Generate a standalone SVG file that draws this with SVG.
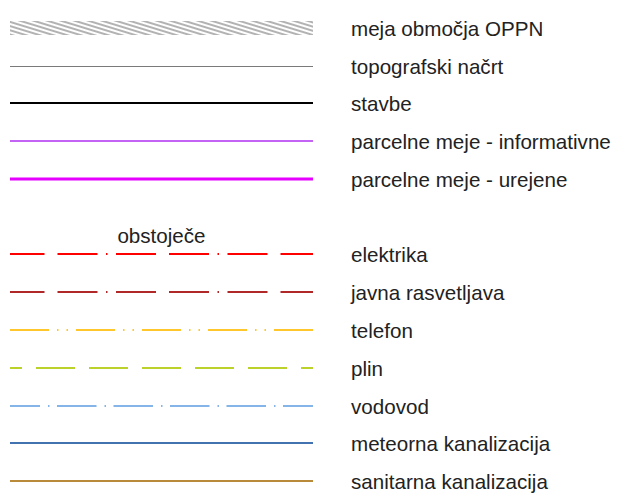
<svg xmlns="http://www.w3.org/2000/svg" width="621" height="495" viewBox="0 0 621 495">
<style>
text{font-family:"Liberation Sans",Arial,sans-serif;font-size:20.6px;fill:#222}
line{fill:none}
</style>
<defs>
<pattern id="hatch" patternUnits="userSpaceOnUse" width="6" height="4" patternTransform="rotate(17)">
<line x1="0" y1="2" x2="6" y2="2" stroke="#666" stroke-width="1"/>
</pattern>
</defs>
<rect x="0" y="0" width="621" height="495" fill="#fff"/>
<g id="legend-lines">
<g id="oppn"><rect x="10" y="21" width="303" height="14" fill="url(#hatch)"/></g>
<g id="topo"><line x1="10" y1="66.5" x2="313" y2="66.5" stroke="#7a7a7a" stroke-width="1"/></g>
<g id="stavbe"><line x1="10" y1="103" x2="313" y2="103" stroke="#000" stroke-width="2"/></g>
<g id="inform"><line x1="10" y1="141" x2="313" y2="141" stroke="#b030f0" stroke-width="1.5"/></g>
<g id="urejene"><line x1="10" y1="179" x2="313" y2="179" stroke="#e600ff" stroke-width="3"/></g>
<g id="elektrika"><line x1="10" y1="254" x2="313" y2="254" stroke="#ff0000" stroke-width="2" stroke-dasharray="40 8.5 1.5 8.5 40 13" stroke-dashoffset="64"/></g>
<g id="javna"><line x1="10" y1="292" x2="313" y2="292" stroke="#b02828" stroke-width="2" stroke-dasharray="40 8.5 1.5 8.5 40 13" stroke-dashoffset="64"/></g>
<g id="telefon"><line x1="10" y1="330" x2="313" y2="330" stroke="#ffc72c" stroke-width="2" stroke-dasharray="39 8 1.5 8 1.5 8"/></g>
<g id="plin"><line x1="10" y1="368" x2="313" y2="368" stroke="#bcd12a" stroke-width="2" stroke-dasharray="39 14" stroke-dashoffset="27"/></g>
<g id="vodovod"><line x1="10" y1="406" x2="313" y2="406" stroke="#85b4e8" stroke-width="2" stroke-dasharray="39.5 8 1.5 7.5" stroke-dashoffset="9.5"/></g>
<g id="meteorna"><line x1="10" y1="443" x2="313" y2="443" stroke="#4272b0" stroke-width="2"/></g>
<g id="sanitarna"><line x1="10" y1="481" x2="313" y2="481" stroke="#b88a3a" stroke-width="2"/></g>
</g>
<g id="labels">
<text x="351" y="36">meja območja OPPN</text>
<text x="351" y="74">topografski načrt</text>
<text x="351" y="111">stavbe</text>
<text x="351" y="149">parcelne meje - informativne</text>
<text x="351" y="187">parcelne meje - urejene</text>
<text x="161.5" y="243" text-anchor="middle">obstoječe</text>
<text x="351" y="262">elektrika</text>
<text x="351" y="300">javna rasvetljava</text>
<text x="351" y="338">telefon</text>
<text x="351" y="376">plin</text>
<text x="351" y="414">vodovod</text>
<text x="351" y="451">meteorna kanalizacija</text>
<text x="351" y="489">sanitarna kanalizacija</text>
</g>
</svg>
